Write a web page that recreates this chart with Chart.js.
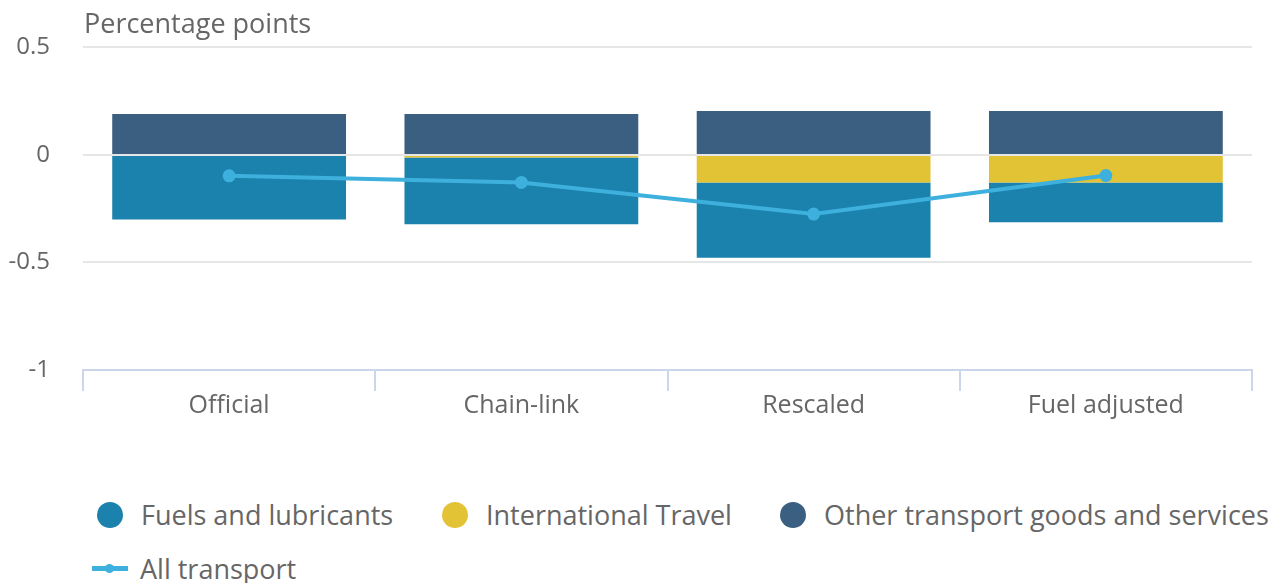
<!DOCTYPE html>
<html>
<head>
<meta charset="utf-8">
<script src="https://cdn.jsdelivr.net/npm/chart.js@4.4.1/dist/chart.umd.min.js"></script>
<style>
  html, body { margin: 0; padding: 0; background: #fff; }
  body { width: 1279px; height: 583px; position: relative; overflow: hidden; font-family: "Open Sans", sans-serif; }
  #wrap { position: absolute; left: 0; top: 0; width: 1279px; height: 421px; }
  #legend { position: absolute; left: 0; top: 496px; width: 1279px; color: #666; font-size: 27px; }
  .item { position: absolute; display: flex; align-items: center; white-space: nowrap; }
  .dot { width: 26px; height: 26px; border-radius: 50%; margin-right: 18px; }
  .ln { position: relative; width: 36px; height: 5px; margin-right: 12px; }
  .ln span { position: absolute; left: 13px; top: -2px; width: 9px; height: 9px; border-radius: 50%; }
</style>
</head>
<body>
<div id="wrap"><canvas id="chart"></canvas></div>
<div id="legend"></div>
<script>
const categories = ['Official', 'Chain-link', 'Rescaled', 'Fuel adjusted'];
const fuels = [-0.30, -0.31, -0.35, -0.185];
const travel = [0, -0.012, -0.128, -0.128];
const otherTransport = [0.19, 0.19, 0.204, 0.204];
const allTransport = [-0.097, -0.128, -0.275, -0.096];
const yTicks = [0.5, 0, -0.5, -1];

const colFuels = '#1a82ac';
const colTravel = '#e3c336';
const colOther = '#3a5f80';
const colLine = '#3eb0dd';
const textCol = '#666666';

const axisTitle = {
  id: 'axisTitle',
  afterDraw(chart) {
    const c = chart.ctx;
    c.save();
    c.font = '27px "Open Sans"';
    c.fillStyle = textCol;
    c.textBaseline = 'middle';
    c.fillText('Percentage points', chart.chartArea.left + 1, 25);
    c.restore();
  }
};

new Chart(document.getElementById('chart'), {
  data: {
    labels: categories,
    datasets: [
      {
        type: 'line',
        label: 'All transport',
        data: allTransport,
        borderColor: colLine,
        backgroundColor: colLine,
        borderWidth: 4,
        pointRadius: 4.5,
        pointHoverRadius: 4.5,
        tension: 0,
        order: 0
      },
      {
        type: 'bar',
        label: 'International Travel',
        data: travel,
        backgroundColor: colTravel,
        stack: 's',
        order: 1
      },
      {
        type: 'bar',
        label: 'Fuels and lubricants',
        data: fuels,
        backgroundColor: colFuels,
        stack: 's',
        order: 1
      },
      {
        type: 'bar',
        label: 'Other transport goods and services',
        data: otherTransport,
        backgroundColor: colOther,
        stack: 's',
        order: 1
      }
    ]
  },
  options: {
    responsive: true,
    maintainAspectRatio: false,
    animation: false,
    layout: {
      padding: { left: 7, right: 27, top: 32, bottom: 0 }
    },
    datasets: {
      bar: { categoryPercentage: 0.8, barPercentage: 1 }
    },
    plugins: {
      legend: { display: false },
      tooltip: { enabled: false }
    },
    scales: {
      x: {
        stacked: true,
        afterFit(axis) { axis.height = 51; },
        grid: {
          offset: true,
          drawOnChartArea: false,
          color: '#ccd6eb',
          lineWidth: 2,
          tickLength: 21
        },
        border: { color: '#ccd6eb', width: 2 },
        ticks: {
          color: textCol,
          padding: 0,
          font: { family: 'Open Sans', size: 25 }
        }
      },
      y: {
        stacked: true,
        min: -1,
        max: 0.5,
        afterBuildTicks(axis) {
          axis.ticks = yTicks.map(v => ({ value: v }));
        },
        afterFit(axis) { axis.width = 76; },
        grid: {
          color: '#e6e6e6',
          lineWidth: 2,
          drawTicks: false
        },
        border: { display: false },
        ticks: {
          color: textCol,
          padding: 33,
          font: { family: 'Open Sans', size: 24 },
          callback: (v) => String(v)
        }
      }
    }
  },
  plugins: [axisTitle]
});

const legendItems = [
  { label: 'Fuels and lubricants', color: colFuels, x: 97, y: 0 },
  { label: 'International Travel', color: colTravel, x: 442, y: 0 },
  { label: 'Other transport goods and services', color: colOther, x: 780, y: 0 },
  { label: 'All transport', color: colLine, x: 92, y: 54, line: true }
];
const legend = document.getElementById('legend');
legendItems.forEach(it => {
  const el = document.createElement('div');
  el.className = 'item';
  el.style.left = it.x + 'px';
  el.style.top = it.y + 'px';
  const sym = document.createElement('div');
  if (it.line) {
    sym.className = 'ln';
    sym.style.background = it.color;
    const d = document.createElement('span');
    d.style.background = it.color;
    sym.appendChild(d);
  } else {
    sym.className = 'dot';
    sym.style.background = it.color;
  }
  el.appendChild(sym);
  const t = document.createElement('span');
  t.textContent = it.label;
  el.appendChild(t);
  legend.appendChild(el);
});
</script>
</body>
</html>
